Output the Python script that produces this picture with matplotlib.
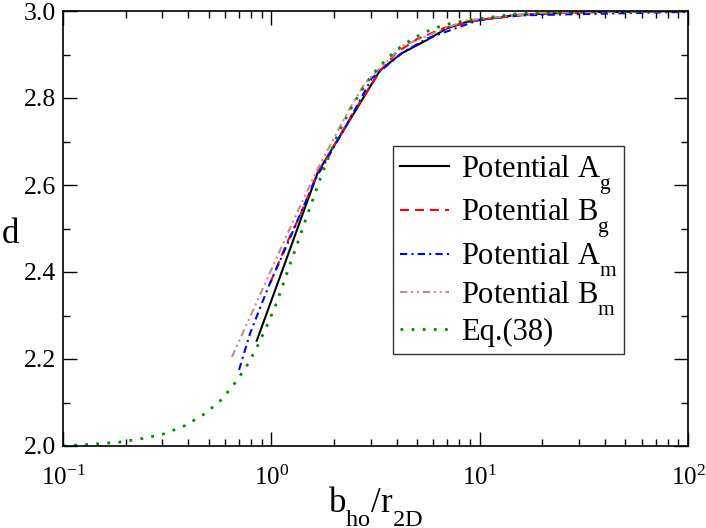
import matplotlib
matplotlib.use("Agg")
import matplotlib.pyplot as plt
import matplotlib._mathtext as _mt
from matplotlib.ticker import LogLocator, FixedLocator, MultipleLocator, FormatStrFormatter

plt.rcParams['font.family'] = ['Liberation Serif', 'DejaVu Serif']
plt.rcParams['mathtext.fontset'] = 'custom'
plt.rcParams['mathtext.rm'] = 'Liberation Serif'
plt.rcParams['mathtext.it'] = 'Liberation Serif:italic'
plt.rcParams['mathtext.bf'] = 'Liberation Serif:bold'
# lower subscripts, Grace-like
_mt.FontConstantsBase.sub1 = 0.85
_mt.FontConstantsBase.sub2 = 0.9

# ---- data ----
eq38_x = [0.1, 0.147, 0.188, 0.240, 0.306, 0.386, 0.479, 0.578, 0.675, 0.776, 0.871, 0.964,
          1.062, 1.253, 1.361, 1.472, 1.600, 1.734, 1.905, 2.089, 2.344, 2.642, 3.034, 3.581,
          4.305, 5.370, 6.745, 8.511, 15.9, 30.0, 100.0]
eq38_d = [2.000, 2.005, 2.009, 2.017, 2.028, 2.047, 2.074, 2.107, 2.147, 2.190, 2.236, 2.282,
          2.330, 2.429, 2.477, 2.525, 2.573, 2.621, 2.670, 2.717, 2.765, 2.809, 2.852, 2.890,
          2.923, 2.950, 2.968, 2.978, 2.995, 2.998, 3.000]

Ag_x = [0.851, 1.178, 1.667, 3.33, 4.23, 5.57, 6.95, 8.67, 15.0, 30.0, 100.0]
Ag_d = [2.242, 2.428, 2.628, 2.864, 2.903, 2.933, 2.960, 2.975, 2.991, 2.997, 3.000]

Bg_x = [0.986, 1.186, 1.374, 1.667, 2.0, 2.5, 3.33, 4.0, 5.0, 6.67, 10.0, 20.0, 50.0, 100.0]
Bg_d = [2.374, 2.466, 2.530, 2.628, 2.69, 2.77, 2.862, 2.905, 2.935, 2.96, 2.98, 2.995, 2.999, 3.000]

Am_x = [0.700, 0.791, 0.968, 1.208, 1.426, 1.652, 2.344, 3.03, 4.27, 5.62, 10.0, 15.8, 100.0]
Am_d = [2.175, 2.259, 2.366, 2.470, 2.550, 2.619, 2.745, 2.845, 2.905, 2.937, 2.980, 2.990, 2.998]

Bm_x = [0.647, 0.85, 1.1, 1.4, 1.66, 2.34, 2.82, 4.27, 8.5, 20.0, 100.0]
Bm_d = [2.205, 2.330, 2.450, 2.560, 2.635, 2.770, 2.835, 2.920, 2.978, 2.996, 3.000]

labels = ['Potential A$_\\mathrm{g}$', 'Potential B$_\\mathrm{g}$',
          'Potential A$_\\mathrm{m}$', 'Potential B$_\\mathrm{m}$', 'Eq.(38)']
y_ticks = [2.0, 2.2, 2.4, 2.6, 2.8, 3.0]
x_label = 'b$_\\mathrm{ho}$/r$_\\mathrm{2D}$'
y_label = 'd'

W, H = 706, 528
fig = plt.figure(figsize=(W/100, H/100), dpi=100)
ax = fig.add_axes([63/W, 1-446/H, (688-63)/W, (446-11)/H])

ax.plot(Ag_x, Ag_d, color='black', lw=1.5, ls='-', label=labels[0])
ax.plot(Bg_x, Bg_d, color='#ff0000', lw=1.5, ls=(0, (4.3, 2.9)), label=labels[1])
ax.plot(Am_x, Am_d, color='#0000ff', lw=1.5, ls=(0, (3.5, 2.0, 1.0, 2.0)), label=labels[2])
ax.plot(Bm_x, Bm_d, color='#bc8f8f', lw=1.5, ls=(0, (3.5, 1.8, 1.0, 1.8, 1.0, 1.8)), label=labels[3])
ax.plot(eq38_x, eq38_d, color='#008b00', lw=2.0, ls=(0, (1, 3)), dash_capstyle='butt', label=labels[4])

ax.set_xscale('log')
ax.set_xlim(0.1, 100)
ax.set_ylim(2.0, 3.0)
ax.yaxis.set_major_locator(FixedLocator(y_ticks))
ax.yaxis.set_minor_locator(MultipleLocator(0.1))
ax.yaxis.set_major_formatter(FormatStrFormatter('%.1f'))
ax.xaxis.set_major_locator(LogLocator(base=10, numticks=10))
ax.xaxis.set_minor_locator(LogLocator(base=10, subs=range(2, 10), numticks=20))

ax.tick_params(which='both', direction='in', top=True, right=True, width=1.0)
ax.tick_params(which='major', length=10)
ax.tick_params(which='minor', length=5)
ax.tick_params(axis='x', which='major', pad=14, labelsize=18)
ax.tick_params(axis='y', which='major', pad=5, labelsize=18.5)
for s in ax.spines.values():
    s.set_linewidth(1.2)

fig.text(375.5/W, 1-513/H, x_label, fontsize=25, ha='center', va='baseline')
fig.text(10.5/W, 1-243/H, y_label, fontsize=25, ha='center', va='baseline')

leg = ax.legend(loc='upper left', bbox_to_anchor=(393/W, 1-146/H), bbox_transform=fig.transFigure,
                borderaxespad=0, fontsize=22, handlelength=1.6, handletextpad=0.4,
                labelspacing=0.0, borderpad=0.22, fancybox=False, frameon=True)
leg.get_frame().set_edgecolor('black')
leg.get_frame().set_linewidth(1.0)

fig.savefig('out.png', dpi=100)
